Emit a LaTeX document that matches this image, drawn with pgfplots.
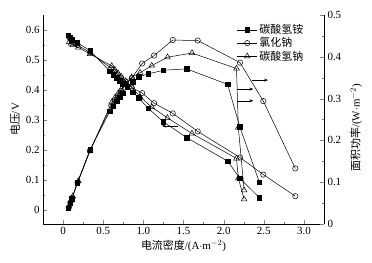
\documentclass[border=0pt]{standalone}
\usepackage{fontspec}
\setmainfont{Liberation Serif}
\newfontfamily\cjk{Noto Sans CJK SC}
\usepackage{pgfplots}
\usepackage{pgfplotstable}
\pgfplotsset{compat=1.18}
\usetikzlibrary{arrows.meta}

% 碳酸氢铵
\pgfplotstableread{
x V P
0.066 0.583 0.038
0.087 0.576 0.050
0.108 0.567 0.061
0.178 0.558 0.099
0.336 0.531 0.178
0.585 0.462 0.270
0.627 0.450 0.282
0.668 0.440 0.294
0.705 0.430 0.303
0.745 0.420 0.313
0.800 0.410 0.328
0.870 0.392 0.341
0.940 0.374 0.352
1.060 0.339 0.359
1.250 0.294 0.368
1.540 0.241 0.371
2.050 0.163 0.334
2.200 0.106 0.233
2.445 0.041 0.100
}\dataA
% 氯化钠
\pgfplotstableread{
x V P
0.070 0.578 0.040
0.090 0.570 0.051
0.110 0.562 0.062
0.180 0.550 0.099
0.336 0.525 0.176
0.600 0.472 0.283
0.640 0.462 0.296
0.680 0.452 0.307
0.720 0.441 0.318
0.780 0.428 0.334
0.855 0.408 0.349
0.985 0.390 0.384
1.133 0.356 0.403
1.366 0.322 0.440
1.677 0.262 0.439
2.204 0.175 0.386
2.494 0.118 0.294
2.893 0.046 0.133
}\dataB
% 碳酸氢钠
\pgfplotstableread{
x V P
0.075 0.560 0.042
0.100 0.555 0.056
0.120 0.550 0.066
0.190 0.542 0.103
0.336 0.520 0.175
0.606 0.480 0.291
0.645 0.468 0.302
0.685 0.456 0.312
0.725 0.445 0.323
0.780 0.430 0.335
0.855 0.410 0.351
0.959 0.377 0.362
1.105 0.343 0.379
1.300 0.307 0.399
1.605 0.255 0.409
2.160 0.172 0.372
2.183 0.106 0.231
2.255 0.036 0.081
}\dataC

\pgfplotsset{
  common/.style={
    at={(43bp,39bp)}, anchor=south west, scale only axis,
    width=281bp, height=209bp,
    xmin=-0.25, xmax=3.25,
    tick align=inside,
    axis line style={-, line width=0.6pt},
    /pgf/number format/assume math mode=true,
    tick label style={font=\fontsize{11}{12}\selectfont},
    label style={font=\fontsize{11}{13}\selectfont},
    major tick length=4pt, minor tick length=2.5pt,
    every axis plot/.append style={black, line width=0.5pt},
  },
  sqA/.style={mark=square*, mark size=2.3pt, mark options={fill=black, solid}},
  ciB/.style={mark=o, mark size=2.7pt, mark options={fill=white, solid}},
  trC/.style={mark=triangle, mark size=3.3pt, mark options={fill=white, solid}},
}

\begin{document}
\begin{tikzpicture}
\useasboundingbox (0,0) rectangle (372bp,263bp);
\begin{axis}[common,
  ymin=-0.0467, ymax=0.65,
  axis x line*=bottom, axis y line*=left,
  xtick={0,0.5,1,1.5,2,2.5,3},
  xticklabels={0,0.5,1.0,1.5,2.0,2.5,3.0},
  minor xtick={0.25,0.75,1.25,1.75,2.25,2.75},
  ytick={0,0.1,0.2,0.3,0.4,0.5,0.6},
  yticklabels={0,0.1,0.2,0.3,0.4,0.5,0.6},
  minor ytick={0.05,0.15,0.25,0.35,0.45,0.55},
  xlabel={{\cjk 电流密度}/(A$\cdot$m$^{-2}$)},
  ylabel={{\cjk 电压}/V},
  xlabel style={yshift=2pt},
  ylabel style={yshift=-1pt},
  legend style={draw=none, fill=none, at={(0.69,0.965)}, anchor=north west,
    font=\fontsize{11}{11}\selectfont\cjk, row sep=-1.5pt, inner sep=0pt},
  legend cell align=left,
  legend image code/.code={\draw[mark repeat=2,mark phase=2] plot coordinates {(0cm,0cm)(0.35cm,0cm)(0.7cm,0cm)};},
]
\addplot[sqA] table[x=x,y=V] {\dataA};
\addlegendentry{碳酸氢铵}
\addplot[ciB] table[x=x,y=V] {\dataB};
\addlegendentry{氯化钠}
\addplot[trC] table[x=x,y=V] {\dataC};
\addlegendentry{碳酸氢钠}
\draw[-{Stealth[length=4pt,width=3pt]}, line width=0.5pt] (axis cs:1.43,0.28) -- (axis cs:1.23,0.28);
\draw[-{Stealth[length=4pt,width=3pt]}, line width=0.5pt] (axis cs:2.354,0.433) -- (axis cs:2.553,0.433);
\draw[-{Stealth[length=4pt,width=3pt]}, line width=0.5pt] (axis cs:2.171,0.403) -- (axis cs:2.370,0.403);
\draw[-{Stealth[length=4pt,width=3pt]}, line width=0.5pt] (axis cs:2.171,0.364) -- (axis cs:2.370,0.364);
\end{axis}
\begin{axis}[common,
  ymin=0, ymax=0.5,
  axis x line=none, axis y line*=right,
  ytick={0,0.1,0.2,0.3,0.4,0.5},
  yticklabels={0,0.1,0.2,0.3,0.4,0.5},
  minor ytick={0.05,0.15,0.25,0.35,0.45},
  clip=false,
]
\addplot[sqA] table[x=x,y=P] {\dataA};
\addplot[ciB] table[x=x,y=P] {\dataB};
\addplot[trC] table[x=x,y=P] {\dataC};
\node[rotate=90, font=\fontsize{11}{13}\selectfont] at (rel axis cs:1.114,0.46) {{\cjk 面积功率}/(W$\cdot$m$^{-2}$)};
\end{axis}
\end{tikzpicture}
\end{document}
